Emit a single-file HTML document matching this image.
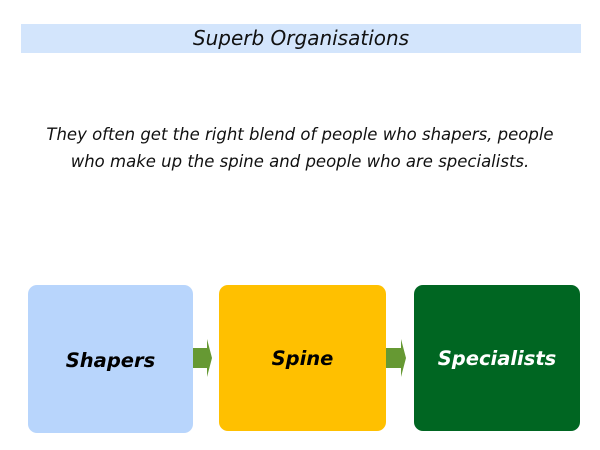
<!DOCTYPE html>
<html><head><style>
body{margin:0;width:600px;height:450px;background:#fff;position:relative;overflow:hidden;font-family:"DejaVu Sans",Verdana,sans-serif;font-style:italic}
.banner{position:absolute;left:21px;top:24px;width:560px;height:29px;background:#d3e5fc;text-align:center;font-size:20px;line-height:29px;color:#111}
.txt{position:absolute;left:0;top:121px;width:600px;text-align:center;font-size:16.5px;line-height:27px;color:#111}
.box{position:absolute;top:285px;height:146px;border-radius:9px;display:flex;align-items:center;justify-content:center;font-weight:bold;font-size:19.5px}
</style></head><body>
<div class="banner">Superb Organisations</div>
<div class="txt">They often get the right blend of people who shapers, people<br>who make up the spine and people who are specialists.</div>
<div class="box" style="left:28px;width:165px;background:#b8d5fc;color:#000;padding-top:2px">Shapers</div>
<div class="box" style="left:219px;width:167px;background:#ffc000;color:#000">Spine</div>
<div class="box" style="left:414px;width:166px;background:#006622;color:#fff">Specialists</div>
<svg width="600" height="450" style="position:absolute;left:0;top:0">
<polygon points="193,348 207,348 207,339 212,358 207,377 207,368 193,368" fill="#669933"/>
<polygon points="386,348 401,348 401,339 406,358 401,377 401,368 386,368" fill="#669933"/>
</svg>
</body></html>
